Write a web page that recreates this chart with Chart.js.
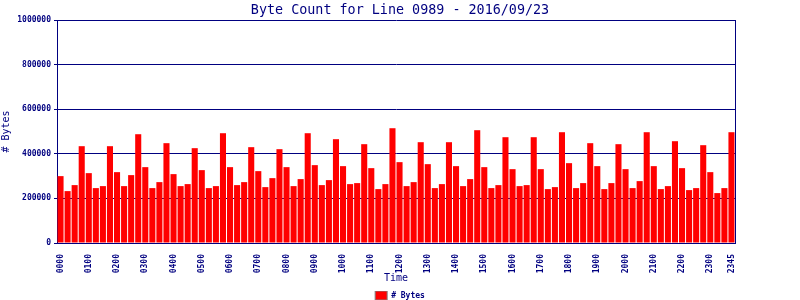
<!DOCTYPE html>
<html>
<head>
<meta charset="utf-8">
<script src="https://cdn.jsdelivr.net/npm/chart.js@4"></script>
<style>
  body { margin: 0; background: #fff; }
  #wrap { width: 800px; height: 300px; }
</style>
</head>
<body>
<div id="wrap"><canvas id="chart"></canvas></div>
<script>
// time slots, every 15 minutes
const timeLabels = [
  '0000','0015','0030','0045','0100','0115','0130','0145',
  '0200','0215','0230','0245','0300','0315','0330','0345',
  '0400','0415','0430','0445','0500','0515','0530','0545',
  '0600','0615','0630','0645','0700','0715','0730','0745',
  '0800','0815','0830','0845','0900','0915','0930','0945',
  '1000','1015','1030','1045','1100','1115','1130','1145',
  '1200','1215','1230','1245','1300','1315','1330','1345',
  '1400','1415','1430','1445','1500','1515','1530','1545',
  '1600','1615','1630','1645','1700','1715','1730','1745',
  '1800','1815','1830','1845','1900','1915','1930','1945',
  '2000','2015','2030','2045','2100','2115','2130','2145',
  '2200','2215','2230','2245','2300','2315','2330','2345'
];

// byte counts
const byteCounts = [
  300000, 232800, 259700, 434300, 313400, 246300, 255200, 434300,
  317900, 255200, 304500, 488000, 340300, 246300, 273100, 447800,
  309000, 255200, 264200, 425400, 326900, 246300, 255200, 492500,
  340300, 259700, 273100, 429900, 322400, 250700, 291000, 420900,
  340300, 255200, 286600, 492500, 349300, 259700, 282100, 465700,
  344800, 264200, 268700, 443300, 335800, 241800, 264200, 514900,
  362700, 255200, 273100, 452200, 353700, 246300, 264200, 452200,
  344800, 255200, 286600, 506000, 340300, 246300, 259700, 474600,
  331300, 255200, 259700, 474600, 331300, 241800, 250700, 497000,
  358200, 246300, 268700, 447800, 344800, 241800, 268700, 443300,
  331300, 246300, 277600, 497000, 344800, 241800, 255200, 456700,
  335800, 237300, 246300, 438800, 317900, 223900, 246300, 497000
];

const yTicks = [0, 200000, 400000, 600000, 800000, 1000000];

const navy = '#000080';
const mono = 'DejaVu Sans Mono';

const ctx = document.getElementById('chart').getContext('2d');
new Chart(ctx, {
  type: 'bar',
  data: {
    labels: timeLabels,
    datasets: [{
      label: '# Bytes',
      data: byteCounts,
      backgroundColor: '#ff0000',
      borderWidth: 0,
      barPercentage: 0.86,
      categoryPercentage: 1.0
    }]
  },
  options: {
    responsive: true,
    maintainAspectRatio: false,
    animation: false,
    layout: { padding: { top: 0, left: 0, right: 0, bottom: -10 } },
    plugins: {
      title: {
        display: true,
        text: 'Byte Count for Line 0989 - 2016/09/23',
        color: navy,
        font: { family: mono, size: 13.4, weight: 'normal', lineHeight: 1.2 },
        padding: { top: 2, bottom: 2 }
      },
      legend: {
        position: 'bottom',
        labels: {
          color: navy,
          font: { family: mono, size: 8, weight: 'bold' },
          boxWidth: 12,
          boxHeight: 9,
          padding: 0,
          generateLabels: () => [{
            text: '# Bytes',
            fillStyle: '#ff0000',
            strokeStyle: '#808080',
            lineWidth: 1,
            fontColor: navy,
            datasetIndex: 0
          }]
        }
      },
      tooltip: { enabled: false }
    },
    scales: {
      x: {
        grid: { display: false },
        border: { display: true, color: navy, width: 1 },
        ticks: {
          color: navy,
          font: { family: mono, size: 8, weight: 'bold' },
          autoSkip: false,
          minRotation: 90,
          maxRotation: 90,
          padding: 3,
          callback: function (value, index) {
            if (index % 4 === 0 || index === timeLabels.length - 1) {
              return timeLabels[index];
            }
            return '';
          }
        },
        title: {
          display: true,
          text: 'Time',
          color: navy,
          font: { family: mono, size: 10 },
          padding: { top: 4, bottom: 7 }
        },
        afterFit: (scale) => { scale.height = 48; }
      },
      y: {
        min: 0,
        max: 1000000,
        afterBuildTicks: (scale) => { scale.ticks = yTicks.map(v => ({ value: v })); },
        grid: { color: navy, lineWidth: 1, tickLength: 3 },
        border: { display: true, color: navy, width: 1 },
        ticks: {
          color: navy,
          font: { family: mono, size: 8, weight: 'bold' },
          padding: 3,
          callback: (v) => String(v)
        },
        title: {
          display: true,
          text: '# Bytes',
          color: navy,
          font: { family: mono, size: 10 },
          padding: { top: 0, bottom: 4 }
        },
        afterFit: (scale) => { scale.width = 57; }
      },
      y2: {
        position: 'right',
        min: 0,
        max: 1000000,
        grid: { drawOnChartArea: false, drawTicks: false },
        border: { display: true, color: navy, width: 1 },
        ticks: { display: false },
        afterFit: (scale) => { scale.width = 65; }
      }
    }
  }
});
</script>
</body>
</html>
